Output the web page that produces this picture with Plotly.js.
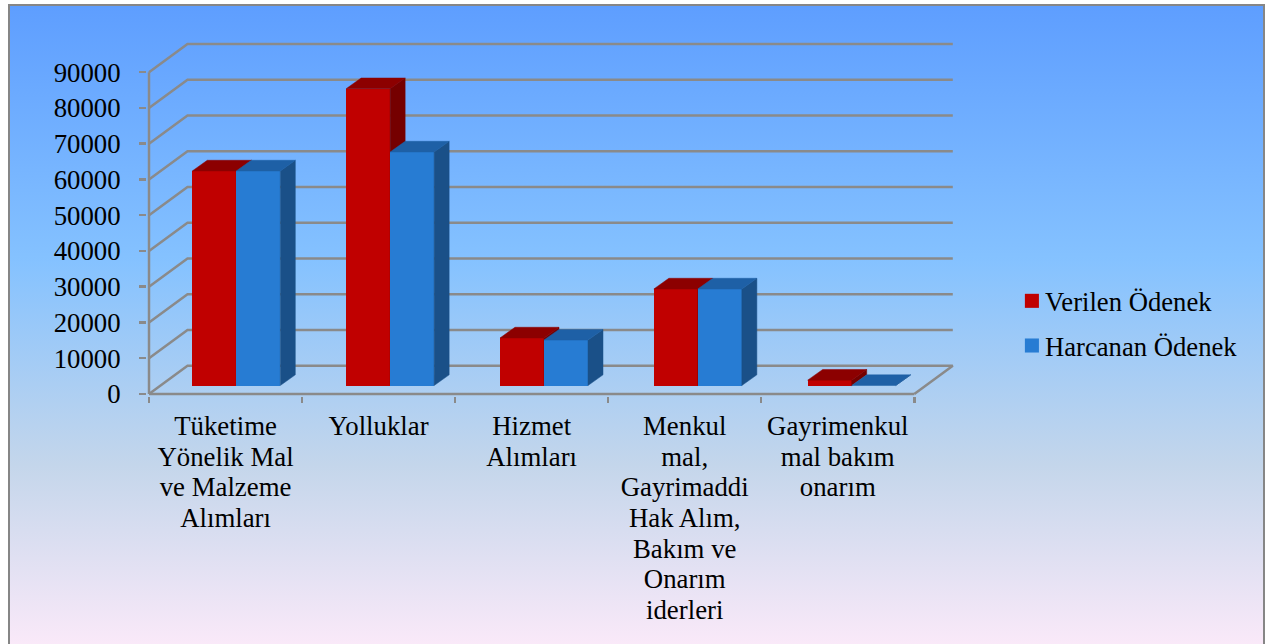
<!DOCTYPE html>
<html>
<head>
<meta charset="utf-8">
<script src="https://cdn.plot.ly/plotly-3.0.1.min.js"></script>
<style>
html,body{margin:0;padding:0;background:#fff;width:1266px;height:644px;overflow:hidden}
#frame{position:absolute;left:8px;top:4px;width:1257px;height:660px;box-sizing:border-box;border:2px solid #868686;
background:linear-gradient(180deg,#5E9EFF 0%,#85C2FF 39%,#C4D6EB 70%,#FFEBFA 100%)}
#chart{position:absolute;left:0;top:0;width:1266px;height:644px}
</style>
</head>
<body>
<div id="frame"></div>
<div id="chart"></div>
<script>
const categories = [
  "Tüketime<br>Yönelik Mal<br>ve Malzeme<br>Alımları",
  "Yolluklar",
  "Hizmet<br>Alımları",
  "Menkul<br>mal,<br>Gayrimaddi<br>Hak Alım,<br>Bakım ve<br>Onarım<br>iderleri",
  "Gayrimenkul<br>mal bakım<br>onarım"
];
const verilenOdenek  = [60000, 83000, 13300, 27000, 1500];
const harcananOdenek = [60000, 65300, 12700, 27000, 0];
const seriesNames = ["Verilen Ödenek", "Harcanan Ödenek"];
const yTicks = [0,10000,20000,30000,40000,50000,60000,70000,80000,90000];

const W=1266, H=644;
const originX=149, originY=394;              // where value 0 / first category edge sits
const pxX=(914.3-149)/5, pxY=(394-71.7)/90000;
const areaL=147, areaR=956, areaT=41.5, areaB=396; // plot area holding the whole 3D box
const ux=p=>p/pxX, uy=p=>p/pxY;
const wallX=ux(38.5), wallY=uy(28.3);        // depth of the back wall
const barDX=ux(15), barDY=uy(10.7);          // depth of one bar
const floorY=uy(8.5);                        // bar front base above the axis
const barW=ux(44), groupStart=ux(87.3), pitch=153.85/pxX;
const GRID="#8A8A8A", FONT="Liberation Serif, Times New Roman, serif", FS=26.8;

const traces=[];
function line(xs,ys){traces.push({type:"scatter",mode:"lines",x:xs,y:ys,showlegend:false,hoverinfo:"skip",
  line:{color:GRID,width:2.5}});}
yTicks.forEach(v=>{
  if(v===0) line([0,wallX,5+wallX,5],[0,wallY,wallY,0]);
  else line([0,wallX,5+wallX],[v,v+wallY,v+wallY]);
});
line([0,0],[0,90000]);   // value axis line
line([0,5],[0,0]);       // category axis line

function poly(xs,ys,color,ax){traces.push({type:"scatter",mode:"lines",x:xs,y:ys,fill:"toself",fillcolor:color,
  line:{color:color,width:0.5},showlegend:false,hoverinfo:"skip",xaxis:ax.x,yaxis:ax.y});}
function series(values,name,side,colors,ax,group){
  const xs=values.map((_,i)=>groupStart+i*pitch+side*barW/2);
  traces.push({type:"bar",name:name,x:xs,y:values,base:floorY,width:barW,marker:{color:colors.front},
    legendgroup:group,xaxis:ax.x,yaxis:ax.y,hovertemplate:name+": %{y}<extra></extra>"});
  values.forEach((v,i)=>{
    const x0=xs[i]-barW/2,x1=xs[i]+barW/2,y0=floorY,y1=floorY+v;
    poly([x1,x1+barDX,x1+barDX,x1,x1],[y0,y0+barDY,y1+barDY,y1,y0],colors.side,ax);
    poly([x0,x1,x1+barDX,x0+barDX,x0],[y1,y1,y1+barDY,y1+barDY,y1],colors.top,ax);
  });
}
series(verilenOdenek,seriesNames[0],-1,{front:"#C00000",top:"#8C0000",side:"#750000"},{x:"x2",y:"y2"},"a");
series(harcananOdenek,seriesNames[1],1,{front:"#277CD3",top:"#1E60A6",side:"#1A5088"},{x:"x3",y:"y3"},"b");

const overlayX=()=>({overlaying:"x",matches:"x",visible:false});
const overlayY=()=>({overlaying:"y",matches:"y",visible:false});
const layout={
  width:W,height:H,autosize:false,
  paper_bgcolor:"rgba(0,0,0,0)",plot_bgcolor:"rgba(0,0,0,0)",
  margin:{l:areaL,r:W-areaR,t:areaT,b:H-areaB,pad:0,autoexpand:false},
  font:{family:FONT,size:FS,color:"#000"},
  xaxis:{range:[ux(areaL-originX),ux(areaR-originX)],tickmode:"array",tickvals:[0.5,1.5,2.5,3.5,4.5],ticktext:categories,ticks:"",
    tickangle:0,showgrid:false,zeroline:false,showline:false,
    ticklabelstandoff:11,
    minor:{tickmode:"array",tickvals:[0,1,2,3,4,5],ticks:"outside",ticklen:6,tickwidth:2.5,tickcolor:GRID,showgrid:false},
    tickfont:{family:FONT,size:FS,color:"#000"}},
  yaxis:{range:[uy(originY-areaB),uy(originY-areaT)],tickmode:"array",tickvals:yTicks,ticktext:yTicks.map(String),ticks:"outside",ticklen:7,tickwidth:2.5,tickcolor:GRID,
    showgrid:false,zeroline:false,showline:false,ticklabelstandoff:13,
    tickfont:{family:FONT,size:FS,color:"#000"}},
  xaxis2:overlayX(),yaxis2:overlayY(),xaxis3:overlayX(),yaxis3:overlayY(),
  showlegend:true,
  legend:{xref:"container",yref:"container",x:1005/W,xanchor:"left",y:1-277/H,yanchor:"top",
    bgcolor:"rgba(0,0,0,0)",borderwidth:0,traceorder:"grouped",tracegroupgap:7,font:{family:FONT,size:26.67,color:"#000"},itemclick:false,itemdoubleclick:false},
  bargap:0
};
Plotly.newPlot("chart",traces,layout,{displayModeBar:false,staticPlot:true}).then(gd=>{
  gd.querySelectorAll(".xtick text tspan.line").forEach(t=>{
    const dy=parseFloat(t.getAttribute("dy"));
    if(!isNaN(dy)) t.setAttribute("dy",(dy*30.7/(FS*1.3))+"em");
  });
  gd.querySelectorAll(".legendsymbols").forEach(s=>s.setAttribute("transform","translate(3.5,0) scale(1.17)"));
});
</script>
</body>
</html>
